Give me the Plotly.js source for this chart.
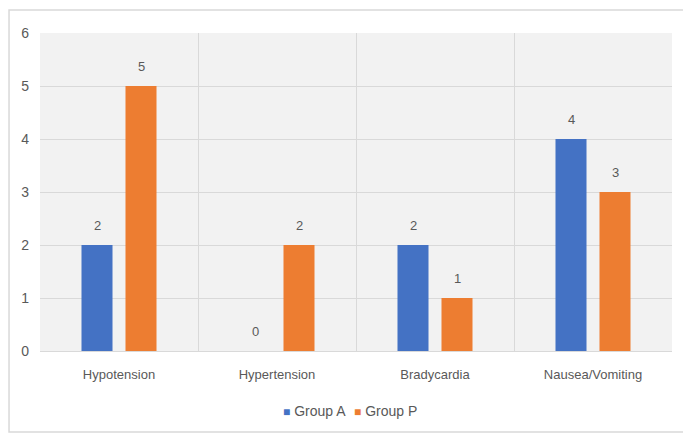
<!DOCTYPE html>
<html>
<head>
<meta charset="utf-8">
<script src="https://cdn.plot.ly/plotly-3.0.1.min.js"></script>
<style>html,body{margin:0;padding:0;background:#fff;}#chart{width:683px;height:438px;}</style>
</head>
<body>
<div id="chart"></div>
<script>
const categories = ["Hypotension", "Hypertension", "Bradycardia", "Nausea/Vomiting"];
const groupA = [2, 0, 2, 4];
const groupP = [5, 2, 1, 3];
const yTicks = [0, 1, 2, 3, 4, 5, 6];
const seriesNames = ["Group A", "Group P"];

const FONT = '"Liberation Sans", Arial, sans-serif';
const TXT = '#595959';
const COLORS = ['#4472C4', '#ED7D31'];

const traces = [
  {type: 'bar', name: seriesNames[0], x: categories, y: groupA, marker: {color: COLORS[0]}, hoverinfo: 'none'},
  {type: 'bar', name: seriesNames[1], x: categories, y: groupP, marker: {color: COLORS[1]}, hoverinfo: 'none'}
];

const annotations = [];
categories.forEach((c, i) => {
  annotations.push({x: c, y: groupA[i], xref: 'x', yref: 'y', text: String(groupA[i]), showarrow: false,
    xshift: -22, yshift: 20, font: {family: FONT, size: 13, color: TXT}});
  annotations.push({x: c, y: groupP[i], xref: 'x', yref: 'y', text: String(groupP[i]), showarrow: false,
    xshift: 22, yshift: 20, font: {family: FONT, size: 13, color: TXT}});
});
// legend drawn as text
const legendX = [0.435, 0.546];
seriesNames.forEach((n, k) => {
  annotations.push({xref: 'paper', yref: 'paper', x: legendX[k], y: -0.189, xanchor: 'center', yanchor: 'middle',
    showarrow: false, text: '<span style="color:' + COLORS[k] + ';font-size:12px">■</span> ' + n,
    font: {family: FONT, size: 14, color: TXT}});
});

const layout = {
  width: 683, height: 438,
  margin: {l: 40, r: 11, t: 33, b: 87},
  paper_bgcolor: '#ffffff',
  plot_bgcolor: '#f2f2f2',
  barmode: 'group',
  bargap: 0.443,
  bargroupgap: 0.295,
  font: {family: FONT, size: 13, color: TXT},
  xaxis: {
    type: 'category', tickson: 'boundaries', showgrid: true, gridcolor: '#d9d9d9', gridwidth: 1,
    ticks: '', showline: false, zeroline: false, tickfont: {family: FONT, size: 13, color: TXT},
    ticklabelstandoff: 14
  },
  yaxis: {
    range: [0, 6], tickvals: yTicks, ticktext: yTicks.map(String), showgrid: true, gridcolor: '#d9d9d9',
    zeroline: true, zerolinecolor: '#d9d9d9', showline: false, ticks: '',
    tickfont: {family: FONT, size: 14, color: TXT}, ticklabelstandoff: 10
  },
  showlegend: false,
  annotations: annotations,
  shapes: [{type: 'rect', xref: 'paper', yref: 'paper', x0: -0.049, x1: 1.03, y0: -0.255, y1: 1.072,
    line: {color: '#d9d9d9', width: 1.5}, fillcolor: 'rgba(0,0,0,0)', layer: 'below'}]
};

Plotly.newPlot('chart', traces, layout, {displayModeBar: false, staticPlot: true});
</script>
</body>
</html>
